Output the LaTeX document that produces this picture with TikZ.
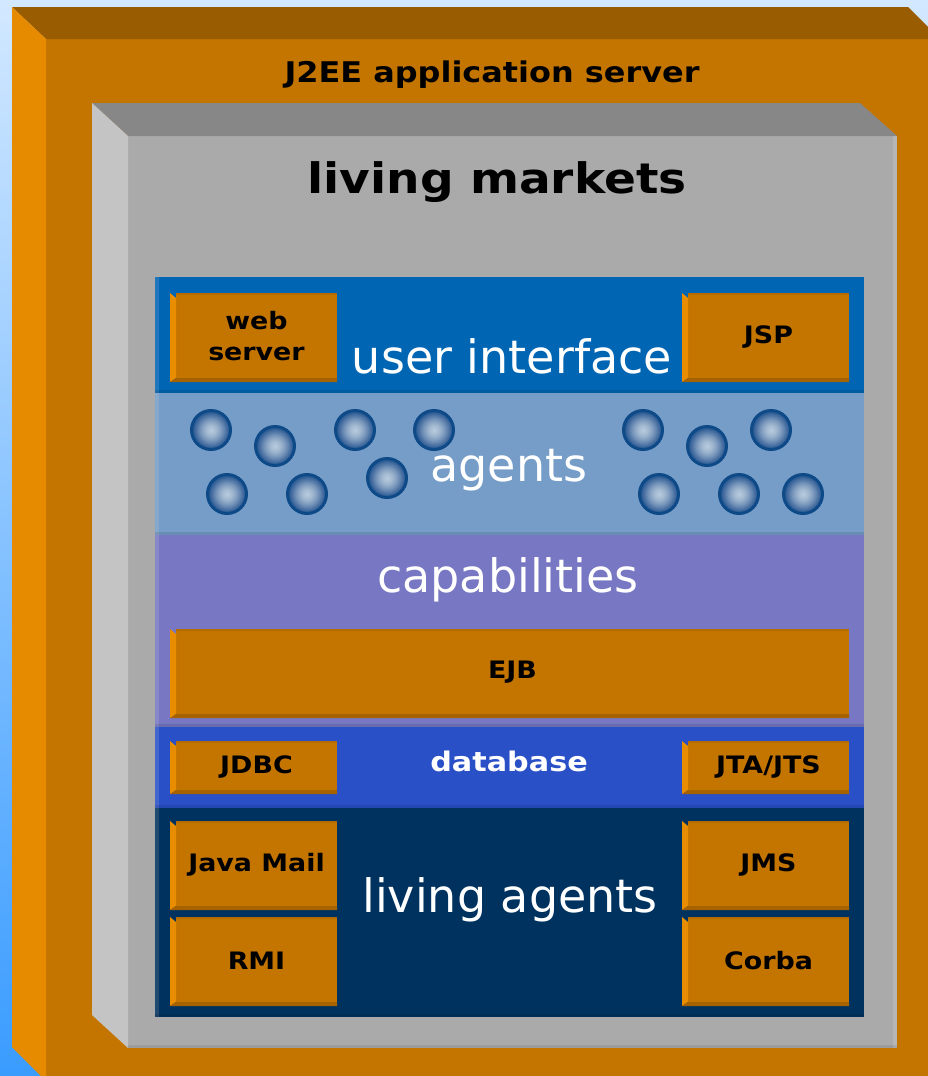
\documentclass[tikz,border=0pt]{standalone}
\usepackage{fontspec}
\setmainfont{DejaVu Sans}
\newfontfamily\widefont{DejaVu Sans}[FakeStretch=1.12]
\definecolor{skytop}{HTML}{D2E8FF}
\definecolor{skybottom}{HTML}{3A9CFF}
\definecolor{servertop}{HTML}{9A5C00}
\definecolor{serverside}{HTML}{E68A00}
\definecolor{serverfront}{HTML}{C47500}
\definecolor{markettop}{HTML}{878787}
\definecolor{marketside}{HTML}{C4C4C4}
\definecolor{marketfront}{HTML}{AAAAAA}
\definecolor{uicol}{HTML}{0066B4}
\definecolor{agentcol}{HTML}{759DC7}
\definecolor{capcol}{HTML}{7777C3}
\definecolor{dbcol}{HTML}{2A50C8}
\definecolor{lacol}{HTML}{00325F}
\definecolor{boxfront}{HTML}{C47500}
\definecolor{boxside}{HTML}{E88C00}
\definecolor{boxbottom}{HTML}{A66200}
\definecolor{ballrim}{HTML}{0E4A88}
\pgfdeclareradialshading{agentball}{\pgfpoint{0bp}{0bp}}{color(0bp)=(rgb,255:red,184;green,204;blue,223);
  color(7bp)=(rgb,255:red,160;green,183;blue,207); color(14bp)=(rgb,255:red,118;green,148;blue,186);
  color(20bp)=(rgb,255:red,70;green,110;blue,160); color(25bp)=(rgb,255:red,26;green,80;blue,142);
  color(50bp)=(rgb,255:red,26;green,80;blue,142)}
\tikzset{
  layertext/.style={anchor=base,text=white,font=\fontsize{46}{50}\selectfont},
  boxlabel/.style={align=center,text=black,inner sep=0pt,font=\widefont\bfseries\fontsize{24}{31}\selectfont},
  agent/.style={circle,minimum size=39pt,inner sep=0pt,draw=ballrim,line width=3pt,shading=agentball}
}
\begin{document}
\begin{tikzpicture}[x=1pt,y=-1pt]
  \useasboundingbox (0,0) rectangle (928,1076);
  \shade[top color=skytop,bottom color=skybottom] (0,0) rectangle (928,1076);
  % application server
  \fill[serverfront] (46,39) rectangle (928,1076);
  \fill[servertop] (12,7) -- (908,7) -- (928,27) -- (928,39) -- (46,39) -- cycle;
  \fill[serverside] (12,7) -- (46,39) -- (46,1076) -- (41,1076) -- (12,1047) -- cycle;
  \node[anchor=base,font=\widefont\bfseries\fontsize{28.5}{30}\selectfont] (servertitle) at (492,82) {J2EE application server};
  % living markets
  \fill[marketfront] (128,136) rectangle (897,1048);
  \fill[markettop] (92,103) -- (860,103) -- (897,136) -- (128,136) -- cycle;
  \fill[marketside] (92,103) -- (128,136) -- (128,1048) -- (92,1015) -- cycle;
  \fill[white,opacity=.15] (893,136) rectangle (897,1048);
  \fill[black,opacity=.08] (128,1045) rectangle (897,1048);
  \node[anchor=base,font=\widefont\bfseries\fontsize{42}{48}\selectfont] (markettitle) at (497,193) {living markets};
  % layers
  \foreach \y/\yy/\c in {277/393/uicol,393/535/agentcol,535/727/capcol,727/808/dbcol,808/1017/lacol}{
    \fill[\c] (155,\y) rectangle (864,\yy);
    \fill[white,opacity=.12] (155,\y) rectangle (159,\yy);
    \fill[black,opacity=.1] (155,\yy-3) rectangle (864,\yy);
  }
  \node[layertext] (uitext) at (512,373) {user interface};
  \node[layertext] (agenttext) at (509,481) {agents};
  \node[layertext] (captext) at (508,592) {capabilities};
  \node[layertext,font=\widefont\bfseries\fontsize{27}{30}\selectfont] (dbtext) at (509,771) {database};
  \node[layertext] (latext) at (510,912) {living agents};
  % agents
  \foreach \p [count=\i] in {(211,430),(275,446),(355,430),(434,430),(227,494),(307,494),(387,478),
                            (643,430),(707,446),(771,430),(659,494),(739,494),(803,494)}
    \node[agent] (ball\i) at \p {};
  % components
  \foreach \nm/\xa/\ya/\xb/\yb/\txt in {web/170/293/337/382/{web\\server},jsp/682/293/849/382/JSP,
      ejb/170/629/849/718/EJB,jdbc/170/741/337/794/JDBC,jta/682/741/849/794/{JTA/JTS},
      mail/170/821/337/910/Java Mail,rmi/170/917/337/1006/RMI,jms/682/821/849/910/JMS,corba/682/917/849/1006/Corba}{
    \fill[boxfront] (\xa+6,\ya) rectangle (\xb,\yb-4);
    \fill[boxside] (\xa,\ya) -- (\xa+6,\ya+5) -- (\xa+6,\yb-4) -- (\xa,\yb) -- cycle;
    \fill[boxbottom] (\xa,\yb) -- (\xa+6,\yb-4) -- (\xb,\yb-4) -- (\xb,\yb) -- cycle;
    \fill[black,opacity=.08] (\xa+6,\ya) rectangle (\xb,\ya+2);
    \node[boxlabel] (\nm) at ({(\xa+\xb)/2+3},{(\ya+\yb)/2-1}) {\txt};
  }
\end{tikzpicture}
\end{document}
